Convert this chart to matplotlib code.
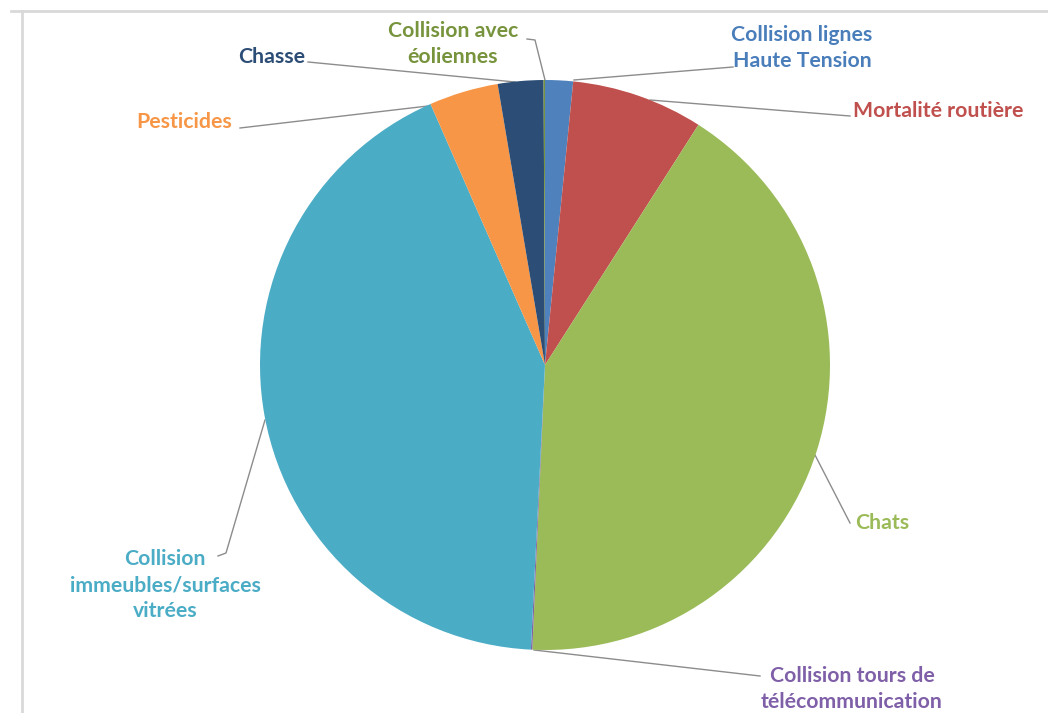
import numpy as np
import matplotlib.pyplot as plt

# Causes de mortalité des oiseaux (parts, en %)
labels = ['Collision lignes\nHaute Tension', 'Mortalité routière', 'Chats',
          'Collision tours de\ntélécommunication',
          'Collision\nimmeubles/surfaces\nvitrées',
          'Pesticides', 'Chasse', 'Collision avec\néoliennes']
values = [1.58, 7.47, 41.67, 0.08, 42.64, 3.92, 2.58, 0.08]
colors = ['#4F81BD', '#C0504D', '#9BBB59', '#8064A2', '#4BACC6',
          '#F79646', '#2C4D75', '#77933C']
text_colors = ['#4A7EBB', '#C0504D', '#9BBB59', '#7F5FA8', '#4BACC6',
               '#F79646', '#2C4D75', '#77933C']

W, H = 1048, 713
fig = plt.figure(figsize=(W / 100, H / 100), dpi=100)
ax = fig.add_axes([0, 0, 1, 1])
ax.set_xlim(0, W)
ax.set_ylim(H, 0)
ax.axis('off')

cx, cy, r = 545, 365, 285

# pie drawn in a separate axes so the angles go the usual way
pax = fig.add_axes([(cx - r) / W, 1 - (cy + r) / H, 2 * r / W, 2 * r / H])
pax.pie(values, colors=colors, startangle=90, counterclock=False,
        radius=1, wedgeprops=dict(linewidth=0))
pax.set_xlim(-1, 1)
pax.set_ylim(-1, 1)
pax.axis('off')

# frame of the chart area
ax.plot([11, W], [11, 11], color='#d9d9d9', lw=2)
ax.plot([22, 22], [11, H], color='#d9d9d9', lw=2)

# label positions (pixel coords), alignment and leader line points
label_pos = [
    (802, 48, 'center', [(574, 80), (733, 67)]),
    (853, 111, 'left', [(650, 100), (850, 116)]),
    (855, 523, 'left', [(815, 455), (850, 523)]),
    (852, 689, 'center', [(534, 650), (760, 676)]),
    (165, 585, 'center', [(265, 420), (226, 553), (218, 556)]),
    (232, 122, 'right', [(428, 106), (240, 128)]),
    (272, 57, 'center', [(515, 82), (308, 62)]),
    (453, 44, 'center', [(545, 80), (535, 40), (527, 39)]),
]

for lab, col, (x, y, ha, pts) in zip(labels, text_colors, label_pos):
    px, py = zip(*pts)
    ax.plot(px, py, color='#8c8c8c', lw=1)
    ax.text(x, y, lab, color=col, ha=ha, va='center', fontsize=15.3,
            fontweight='bold', family='Lato', linespacing=1.4,
            multialignment='center')

fig.savefig('out.png', dpi=100)
